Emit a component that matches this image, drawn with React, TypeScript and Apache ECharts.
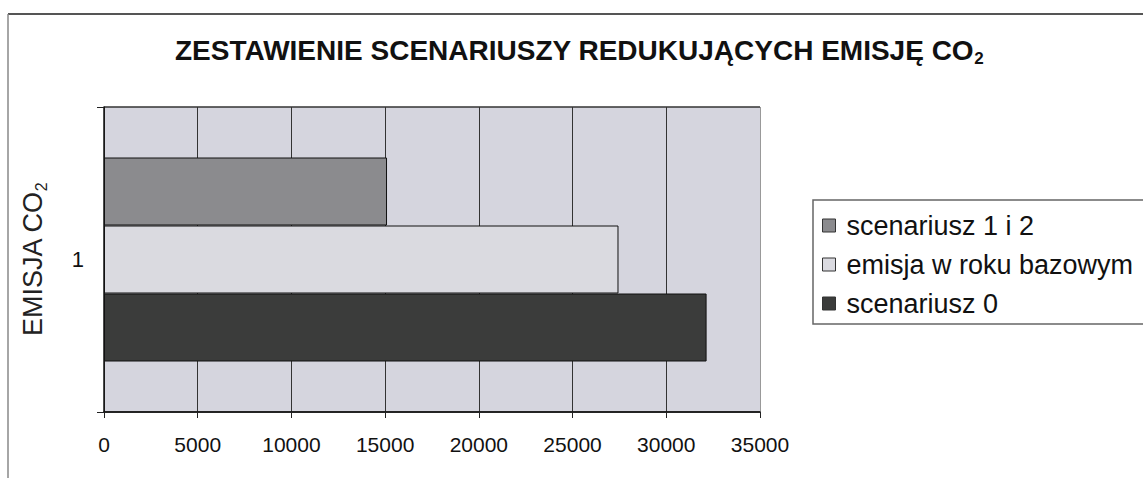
import React, { useEffect, useRef } from "react";
import * as echarts from "echarts";

const categories = ["1"];
const seriesNames = ["scenariusz 1 i 2", "emisja w roku bazowym", "scenariusz 0"];
const scenariusz12 = [15100];
const emisjaBazowa = [27450];
const scenariusz0 = [32150];
const legendOrder = ["scenariusz 1 i 2", "emisja w roku bazowym", "scenariusz 0"];
const xTicks = { min: 0, max: 35000, interval: 5000 };

const FONT = "'Liberation Sans', Arial, sans-serif";

export default function App() {
  const ref = useRef<HTMLDivElement>(null);
  useEffect(() => {
    if (!ref.current) return;
    const chart = echarts.init(ref.current, null, { renderer: "svg" });
    const barBorder = { borderColor: "#111", borderWidth: 1 };
    chart.setOption({
      animation: false,
      backgroundColor: "#ffffff",
      textStyle: { fontFamily: FONT },
      title: {
        text: "{a|ZESTAWIENIE SCENARIUSZY REDUKUJĄCYCH EMISJĘ CO}{s|2}",
        left: 175,
        top: 34,
        padding: 0,
        textStyle: {
          rich: {
            a: { fontFamily: FONT, fontWeight: "bold", fontSize: 28, color: "#111", lineHeight: 30, verticalAlign: "bottom" },
            s: { fontFamily: FONT, fontWeight: "bold", fontSize: 17, color: "#111", lineHeight: 30, verticalAlign: "bottom", padding: [0, 0, -3, 0] },
          },
        },
      },
      legend: {
        orient: "vertical",
        left: 822,
        top: 212,
        padding: 0,
        itemGap: 12,
        itemWidth: 13,
        itemHeight: 13,
        icon: "rect",
        data: legendOrder,
        textStyle: { fontFamily: FONT, fontSize: 27, color: "#111", padding: [0, 0, 0, 6] },
        itemStyle: { borderColor: "#333", borderWidth: 1 },
      },
      grid: {
        left: 104,
        right: 383,
        top: 107,
        bottom: 66,
        show: true,
        backgroundColor: "#d5d5de",
        borderWidth: 0,
      },
      xAxis: {
        type: "value",
        min: xTicks.min,
        max: xTicks.max,
        interval: xTicks.interval,
        axisLine: { show: true, lineStyle: { color: "#111", width: 1.5 } },
        axisTick: { show: true, length: 6, lineStyle: { color: "#222" } },
        axisLabel: {
          fontFamily: FONT,
          fontSize: 21,
          color: "#111",
          margin: 22,
          formatter: (v: number) => String(v),
        },
        splitLine: {
          show: true,
          lineStyle: { color: ["#333", "#333", "#333", "#333", "#333", "#333", "#333", "#999"], width: 1 },
        },
      },
      yAxis: {
        type: "category",
        data: categories,
        name: "{a|EMISJA CO}{s|2}",
        nameLocation: "middle",
        nameRotate: 90,
        nameGap: 58,
        nameTextStyle: {
          rich: {
            a: { fontFamily: FONT, fontSize: 27, color: "#222", lineHeight: 28, verticalAlign: "bottom" },
            s: { fontFamily: FONT, fontSize: 16, color: "#222", lineHeight: 28, verticalAlign: "bottom", padding: [0, 0, -3, 0] },
          },
        },
        axisLine: { show: true, lineStyle: { color: "#111", width: 1.5 } },
        axisTick: { show: true, length: 7, lineStyle: { color: "#222" } },
        axisLabel: { fontFamily: FONT, fontSize: 22, color: "#111", margin: 20 },
        splitLine: { show: true, lineStyle: { color: "#333", width: 1.5 } },
      },
      series: [
        {
          name: seriesNames[0],
          type: "bar",
          data: scenariusz12,
          barWidth: 68,
          barGap: "0%",
          itemStyle: { color: "#8b8b8e", ...barBorder },
        },
        {
          name: seriesNames[1],
          type: "bar",
          data: emisjaBazowa,
          barWidth: 68,
          barGap: "0%",
          itemStyle: { color: "#dadae0", ...barBorder },
        },
        {
          name: seriesNames[2],
          type: "bar",
          data: scenariusz0,
          barWidth: 68,
          barGap: "0%",
          itemStyle: { color: "#3b3c3b", ...barBorder },
        },
      ],
      graphic: [
        { type: "line", shape: { x1: 8, y1: 14, x2: 1143, y2: 14 }, style: { stroke: "#555", lineWidth: 2 } },
        { type: "line", shape: { x1: 8, y1: 14, x2: 8, y2: 478 }, style: { stroke: "#888", lineWidth: 1.5 } },
        { type: "rect", shape: { x: 813, y: 200, width: 400, height: 124 }, style: { fill: "none", stroke: "#666", lineWidth: 1.5 }, z: -1 },
      ],
    });
    return () => chart.dispose();
  }, []);
  return <div ref={ref} style={{ position: "absolute", left: 0, top: 0, width: 1143, height: 478 }} />;
}
